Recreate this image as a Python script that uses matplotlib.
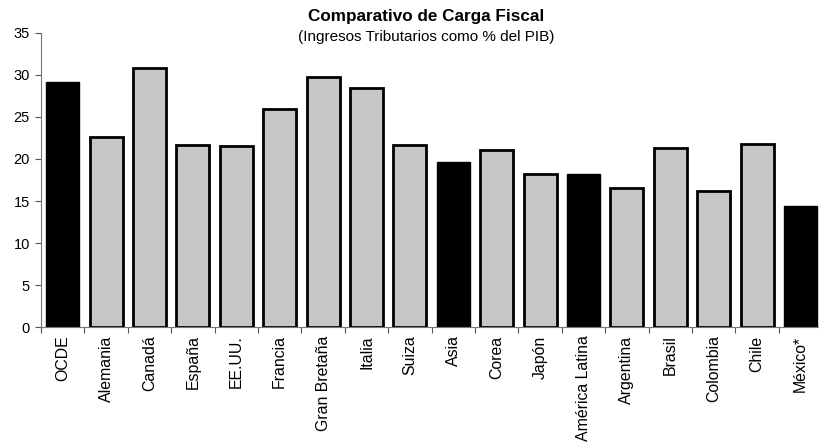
import matplotlib
matplotlib.use("Agg")
import matplotlib.pyplot as plt
import numpy as np

plt.rcParams['font.family'] = ['Liberation Sans', 'DejaVu Sans']

categories = ["OCDE", "Alemania", "Canadá", "España", "EE.UU.", "Francia", "Gran Bretaña",
              "Italia", "Suiza", "Asia", "Corea", "Japón", "América Latina", "Argentina",
              "Brasil", "Colombia", "Chile", "México*"]
values = [29.2, 22.6, 30.8, 21.7, 21.6, 26.0, 29.8, 28.5, 21.7, 19.6, 21.1, 18.2, 18.2,
          16.5, 21.3, 16.2, 21.8, 14.4]
highlight = ["OCDE", "Asia", "América Latina", "México*"]
y_ticks = [0, 5, 10, 15, 20, 25, 30, 35]

fig = plt.figure(figsize=(8.19, 4.45), dpi=100)
ax = fig.add_axes([0.05, 0.265, 0.954, 0.661])

x = np.arange(len(categories))
for xi, c, v in zip(x, categories, values):
    if c in highlight:
        ax.bar(xi, v, width=0.76, color='black', edgecolor='black', linewidth=1.0)
    else:
        ax.bar(xi, v, width=0.76, color='#c6c6c6', edgecolor='black', linewidth=2.0)

ax.set_xlim(-0.5, len(categories) - 0.5)
ax.set_ylim(0, 35)
ax.set_yticks(y_ticks)
ax.tick_params(axis='y', labelsize=10.5, length=4, width=0.8, color='#555555', pad=4)
ax.set_xticks(x)
ax.set_xticklabels(categories, rotation=90, fontsize=11.4)
ax.tick_params(axis='x', length=0, pad=6)
ax.set_xticks(np.arange(-0.5, len(categories), 1.0), minor=True)
ax.tick_params(axis='x', which='minor', length=4, width=0.8, color='#555555')
for s in ['top', 'right']:
    ax.spines[s].set_visible(False)
for s in ['left', 'bottom']:
    ax.spines[s].set_color('#777777')
    ax.spines[s].set_linewidth(0.8)

fig.text(0.52, 0.963, "Comparativo de Carga Fiscal", ha='center', va='center',
         fontsize=12.3, fontweight='bold')
fig.text(0.52, 0.917, "(Ingresos Tributarios como % del PIB)", ha='center', va='center',
         fontsize=11)

fig.savefig("out.png", dpi=100)
